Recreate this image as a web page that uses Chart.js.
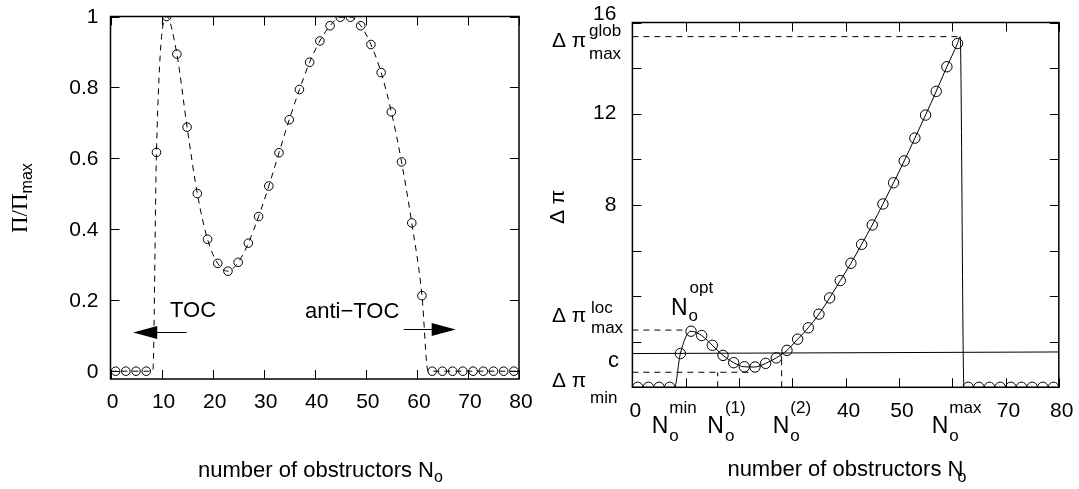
<!DOCTYPE html>
<html><head><meta charset="utf-8">
<script src="https://cdn.jsdelivr.net/npm/chart.js@4.4.1/dist/chart.umd.min.js"></script>
<style>
html,body{margin:0;padding:0;background:#fff;}
#wrap{position:relative;width:1079px;height:489px;overflow:hidden;background:#fff}
canvas{position:absolute;top:0}
#cL{left:0} #cR{left:540px}
</style></head><body>
<div id="wrap"><canvas id="cL" width="540" height="489"></canvas><canvas id="cR" width="539" height="489"></canvas></div>
<script>
// ---------- data: left panel (Pi / Pi_max) ----------
const leftX = [1,3,5,7,9,11,13,15,17,19,21,23,25,27,29,31,33,35,37,39,41,43,45,47,49,51,53,55,57,59,61,63,65,67,69,71,73,75,77,79];
const leftY = [0,0,0,0,0.617,1.0,0.894,0.688,0.501,0.372,0.304,0.282,0.307,0.361,0.436,0.522,0.616,0.709,0.794,0.871,0.931,0.974,0.998,0.998,0.974,0.921,0.842,0.731,0.590,0.418,0.213,0,0,0,0,0,0,0,0,0];
const leftCurveStart = [0, 8.3];   // curve lies on zero up to here
const leftCurveEnd = [62.2, 80];   // curve back on zero from here
const leftXTicks = [0,10,20,30,40,50,60,70,80];
const leftYTicks = [0,0.2,0.4,0.6,0.8,1];
const leftYTickLabels = ['0','0.2','0.4','0.6','0.8','1'];
const tocArrow = [14.9, 4.45, 0.111];      // from x, to x, y
const antiTocArrow = [57.4, 67.6, 0.118];

// ---------- data: right panel (Delta pi) ----------
const rightX = [1,3,5,7,9,11,13,15,17,19,21,23,25,27,29,31,33,35,37,39,41,43,45,47,49,51,53,55,57,59,61,63,65,67,69,71,73,75,77,79];
const rightY = [0,0,0,0,1.48,2.46,2.27,1.84,1.40,1.08,0.90,0.89,1.05,1.29,1.62,2.11,2.61,3.21,3.92,4.68,5.44,6.27,7.12,8.04,8.97,9.93,10.93,11.94,12.98,14.06,15.08,0,0,0,0,0,0,0,0,0];
const rightCurveStart = [0, 7.9];
const rightPeak = [61.5, 15.38];
const rightCurveEnd = [62.2, 80];
const rightXTicks = [0,10,20,30,40,50,60,70,80];
const rightXTickLabels = ['0','','','','40','50','','70','80'];
const rightYTicks = [0,2,4,6,8,10,12,14,16];
const rightYTickLabels = ['','','','','8','','12','','16'];
const dPiGlobMax = 15.38, dPiLocMax = 2.51, dPiMin = 0.66;
const cLevel = [1.48, 1.55];          // c line at x=0 and x=80
const NoOpt = 10.2, No1 = 16.0, No2 = 28.0, NoMinDashEnd = 22.4;

// ---------- helpers ----------
const SANS = '"Liberation Sans", Arial, Helvetica, sans-serif';
const SERIF = '"Liberation Serif", "Times New Roman", serif';
function t(ctx, s, x, y, size, fam, align){ ctx.font = size+'px '+(fam||SANS); ctx.textAlign=align||'left'; ctx.textBaseline='alphabetic'; ctx.fillText(s,x,y); return ctx.measureText(s).width; }
function frameTicks(chart, xt, yt, tl){
  const {ctx, chartArea:a} = chart; const x = chart.scales.x, y = chart.scales.y;
  ctx.save(); ctx.strokeStyle='#000'; ctx.lineWidth=1; ctx.beginPath();
  xt.forEach(v=>{const p=Math.round(x.getPixelForValue(v))+0.5; ctx.moveTo(p,a.bottom); ctx.lineTo(p,a.bottom-tl); ctx.moveTo(p,a.top); ctx.lineTo(p,a.top+tl);});
  yt.forEach(v=>{const p=Math.round(y.getPixelForValue(v))+0.5; ctx.moveTo(a.left,p); ctx.lineTo(a.left+tl,p); ctx.moveTo(a.right,p); ctx.lineTo(a.right-tl,p);});
  ctx.stroke(); ctx.lineWidth=1.5; ctx.strokeRect(a.left,a.top,a.right-a.left,a.bottom-a.top); ctx.restore();
}
function arrow(ctx, x0, x1, yy, hl, hh){
  const d = Math.sign(x1-x0);
  ctx.beginPath(); ctx.moveTo(x0,yy); ctx.lineTo(x1-d*hl*0.5,yy); ctx.stroke();
  ctx.beginPath(); ctx.moveTo(x1,yy); ctx.lineTo(x1-d*hl,yy-hh); ctx.lineTo(x1-d*hl,yy+hh); ctx.closePath(); ctx.fill();
}
function axisCommon(){ return { grid:{display:false, drawTicks:false}, border:{display:false} }; }
const tickFont = {family:SANS, size:21};

// ---------- left chart ----------
const leftPoints = leftX.map((x,i)=>({x, y:leftY[i]}));
const leftCurve = [...leftCurveStart.map(x=>({x,y:0})), ...leftPoints.filter(p=>p.y>0), ...leftCurveEnd.map(x=>({x,y:0}))];

const leftPlugin = { id:'leftDeco', afterDraw(chart){
  const ctx = chart.ctx, xs = chart.scales.x, ys = chart.scales.y;
  frameTicks(chart, leftXTicks, leftYTicks, 9);
  ctx.save(); ctx.fillStyle='#000'; ctx.strokeStyle='#000'; ctx.lineWidth=1.2;
  arrow(ctx, xs.getPixelForValue(tocArrow[0]), xs.getPixelForValue(tocArrow[1]), Math.round(ys.getPixelForValue(tocArrow[2]))+0.5, 24, 6.5);
  arrow(ctx, xs.getPixelForValue(antiTocArrow[0]), xs.getPixelForValue(antiTocArrow[1]), Math.round(ys.getPixelForValue(antiTocArrow[2]))+0.5, 24, 6.5);
  t(ctx, 'TOC', 170, 316.5, 22);
  t(ctx, 'anti\u2212TOC', 305, 318, 22);
  // x title
  let w = t(ctx, 'number of obstructors N', 198, 477, 22);
  t(ctx, 'o', 198+w, 482, 16);
  // y title rotated
  ctx.save(); ctx.translate(27, 233); ctx.rotate(-Math.PI/2);
  w = t(ctx, '\u03A0/\u03A0', 0, 0, 23, SERIF);
  t(ctx, 'max', w, 5, 16);
  ctx.restore();
  ctx.restore();
}};

new Chart(document.getElementById('cL'), {
  type:'line',
  data:{ datasets:[
    { data:leftCurve, borderColor:'#000', borderWidth:1, borderDash:[6,5], pointRadius:0, cubicInterpolationMode:'monotone', fill:false },
    { data:leftPoints, showLine:false, pointRadius:4.3, pointBorderWidth:1, pointBorderColor:'#000', pointBackgroundColor:'rgba(0,0,0,0)', borderColor:'#000' }
  ]},
  options:{
    responsive:false, animation:false, devicePixelRatio:1, events:[],
    layout:{ padding:{ top:16.5, right:21, left:0, bottom:0 } },
    plugins:{ legend:{display:false}, tooltip:{enabled:false} },
    scales:{
      x:{ type:'linear', min:0, max:80, ...axisCommon(),
          afterBuildTicks:s=>{ s.ticks = leftXTicks.map(v=>({value:v})); },
          afterFit:s=>{ s.height = 110; s.paddingLeft=0; s.paddingRight=0; },
          ticks:{ color:'#000', font:tickFont, padding:11, maxRotation:0, autoSkip:false, labelOffset:2, callback:(v)=>String(v) } },
      y:{ type:'linear', min:-0.022, max:1, ...axisCommon(),
          afterBuildTicks:s=>{ s.ticks = leftYTicks.map(v=>({value:v})); },
          afterFit:s=>{ s.width = 110.5; s.paddingTop=0; s.paddingBottom=0; },
          ticks:{ color:'#000', font:tickFont, padding:12, autoSkip:false, labelOffset:1, callback:(v,i)=>leftYTickLabels[i] } }
    }
  },
  plugins:[leftPlugin]
});

// ---------- right chart ----------
const rightPoints = rightX.map((x,i)=>({x, y:rightY[i]}));
const rightCurve = [...rightCurveStart.map(x=>({x,y:0})), ...rightPoints.filter(p=>p.y>0), {x:rightPeak[0], y:rightPeak[1]}, ...rightCurveEnd.map(x=>({x,y:0}))];
const dashed = (pts)=>({ data:pts, borderColor:'#000', borderWidth:1, borderDash:[6,5], pointRadius:0, tension:0, fill:false });
const topLabelIdx = rightYTicks.length-1;   // top label sits a little above its tick

const rightPlugin = { id:'rightDeco', afterDraw(chart){
  const ctx = chart.ctx, ys = chart.scales.y, a = chart.chartArea;
  frameTicks(chart, rightXTicks, rightYTicks, 9);
  ctx.save(); ctx.fillStyle='#000';
  // top y label (offset upward as in the original)
  ctx.font = '21px '+SANS; ctx.textAlign='right'; ctx.textBaseline='middle';
  ctx.fillText(rightYTickLabels[topLabelIdx], a.left-16, ys.getPixelForValue(rightYTicks[topLabelIdx])-8);
  // y-side labels
  let w;
  t(ctx, '\u0394 \u03C0', 12, 46.5, 21); t(ctx, 'glob', 49, 36, 17); t(ctx, 'max', 49, 59, 17);
  t(ctx, '\u0394 \u03C0', 12, 321.7, 21); t(ctx, 'loc', 51, 313, 17); t(ctx, 'max', 51, 333, 17);
  t(ctx, 'c', 68, 366.7, 22);
  t(ctx, '\u0394 \u03C0', 12, 386.7, 21); t(ctx, 'min', 50, 403, 17);
  // x-side N labels
  const NL = [[111.7,'min'],[167.3,'(1)'],[232.7,'(2)'],[391.7,'max']];
  NL.forEach(([x,s])=>{ const nw = t(ctx,'N',x,433,23); t(ctx,'o',x+nw+1,441,17); t(ctx,s,x+nw+1,413,17); });
  // N_o^opt
  { const nw = t(ctx,'N',131,315,23); t(ctx,'o',131+nw+1,321,17); t(ctx,'opt',131+nw+2,293,17); }
  // x title
  w = t(ctx, 'number of obstructors N', 187.4, 476, 22);
  t(ctx, 'o', 187.4+w-6, 482, 16);
  // y title rotated
  ctx.save(); ctx.translate(24, 224); ctx.rotate(-Math.PI/2);
  t(ctx, '\u0394 \u03C0', 0, 0, 21);
  ctx.restore();
  ctx.restore();
}};

new Chart(document.getElementById('cR'), {
  type:'line',
  data:{ datasets:[
    { data:rightCurve, borderColor:'#000', borderWidth:1, pointRadius:0, cubicInterpolationMode:'monotone', fill:false },
    { data:rightPoints, showLine:false, pointRadius:5.2, pointBorderWidth:1, pointBorderColor:'#000', pointBackgroundColor:'rgba(0,0,0,0)', borderColor:'#000' },
    { data:[{x:0,y:cLevel[0]},{x:80,y:cLevel[1]}], borderColor:'#000', borderWidth:1, pointRadius:0, tension:0, fill:false },
    dashed([{x:0,y:dPiGlobMax},{x:rightPeak[0],y:dPiGlobMax}]),
    dashed([{x:0,y:dPiLocMax},{x:NoOpt,y:dPiLocMax}]),
    dashed([{x:0,y:dPiMin},{x:NoMinDashEnd,y:dPiMin}]),
    dashed([{x:No1,y:0},{x:No1,y:dPiMin}]),
    dashed([{x:No2,y:0},{x:No2,y:(cLevel[0]+cLevel[1])/2}])
  ]},
  options:{
    responsive:false, animation:false, devicePixelRatio:1, events:[],
    layout:{ padding:{ top:22.5, right:20.2, left:0, bottom:0 } },
    plugins:{ legend:{display:false}, tooltip:{enabled:false} },
    scales:{
      x:{ type:'linear', min:0, max:80, ...axisCommon(),
          afterBuildTicks:s=>{ s.ticks = rightXTicks.map(v=>({value:v})); },
          afterFit:s=>{ s.height = 101.7; s.paddingLeft=0; s.paddingRight=0; },
          ticks:{ color:'#000', font:tickFont, padding:11, maxRotation:0, autoSkip:false, labelOffset:3, callback:(v,i)=>rightXTickLabels[i] } },
      y:{ type:'linear', min:0, max:16, ...axisCommon(),
          afterBuildTicks:s=>{ s.ticks = rightYTicks.map(v=>({value:v})); },
          afterFit:s=>{ s.width = 92.4; s.paddingTop=0; s.paddingBottom=0; },
          ticks:{ color:'#000', font:tickFont, padding:16, autoSkip:false, callback:(v,i)=> i===topLabelIdx ? '' : rightYTickLabels[i] } }
    }
  },
  plugins:[rightPlugin]
});
</script>
</body></html>
